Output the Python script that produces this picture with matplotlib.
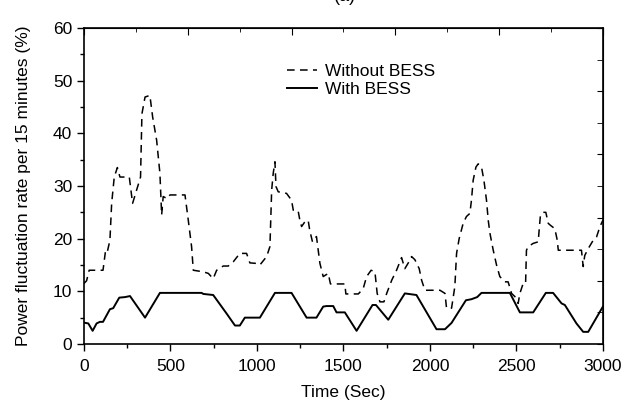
import matplotlib
matplotlib.use('Agg')
import matplotlib.pyplot as plt
from matplotlib.ticker import MultipleLocator

plt.rcParams['font.family'] = ['Liberation Sans', 'DejaVu Sans']

# without BESS (dashed)
t_without = [0, 15, 30, 110, 125, 135, 150, 160, 175, 193,
             208, 262, 281, 304, 327, 335, 353, 381, 397, 420,
             439, 449, 458, 481, 497, 536, 584, 603, 622, 632,
             690, 719, 747, 767, 805, 834, 863, 901, 940, 959,
             997, 1017, 1056, 1075, 1085, 1094, 1104, 1110, 1123, 1171,
             1200, 1210, 1238, 1248, 1258, 1277, 1296, 1305, 1321, 1344,
             1354, 1364, 1383, 1412, 1425, 1508, 1514, 1586, 1614, 1634,
             1660, 1682, 1695, 1711, 1734, 1750, 1779, 1807, 1836, 1855,
             1875, 1894, 1913, 1938, 1952, 1971, 2058, 2087, 2096, 2125,
             2144, 2154, 2169, 2192, 2211, 2231, 2240, 2250, 2266, 2279,
             2298, 2312, 2327, 2337, 2347, 2366, 2385, 2404, 2433, 2452,
             2472, 2491, 2510, 2520, 2539, 2553, 2558, 2568, 2597, 2626,
             2632, 2639, 2655, 2670, 2684, 2698, 2722, 2736, 2742, 2876,
             2886, 2895, 2915, 2944, 2963, 2983, 3000]
p_without = [11.5, 12, 14, 14, 17.8, 17.5, 19.7, 26.7, 31.7, 33.5,
             31.7, 31.7, 26.7, 29.2, 31.7, 43.7, 46.9, 47.2, 43.1, 38.7,
             32.4, 24.5, 28, 27.6, 28.3, 28.3, 28.3, 23.5, 18.5, 14,
             13.7, 13.4, 12.4, 14, 14.8, 14.8, 15.6, 17.2, 17.2, 15.4,
             15.3, 15, 16.6, 18.5, 29.2, 32.4, 34.6, 29.9, 28.9, 28.6,
             27.3, 25.4, 25.3, 23.5, 22.3, 23.2, 23.5, 21.6, 19.4, 20.4,
             17.8, 15.3, 12.8, 13.4, 11.4, 11.4, 9.5, 9.5, 10.5, 12.8,
             14, 13.7, 9.6, 8.0, 8.0, 9.6, 12.1, 14.0, 16.4, 14.3,
             15.4, 16.6, 16, 14.3, 12.1, 10.2, 10.2, 9.6, 6.8, 6.8,
             10.9, 17.2, 20, 22.9, 24.2, 24.8, 27.3, 31.1, 33.6, 34.2,
             33.6, 31.1, 27.3, 23.5, 21, 17.8, 15, 12.8, 11.8, 11.8,
             9.6, 9.0, 7.7, 9.6, 11.5, 11.5, 17.8, 18.5, 19.1, 19.4,
             21.9, 24.5, 25, 25, 22.9, 22.5, 21.9, 19.7, 17.8, 17.8,
             14.7, 16.8, 18.1, 19.7, 20.3, 22.3, 23.5]

# with BESS (solid)
t_with = [0, 25, 50, 73, 92, 110, 150, 169, 204, 237,
          266, 353, 439, 680, 690, 747, 824, 873, 901, 930,
          1017, 1104, 1200, 1287, 1344, 1383, 1402, 1441, 1460, 1508,
          1576, 1668, 1688, 1759, 1855, 1922, 2038, 2087, 2125, 2208,
          2240, 2273, 2298, 2462, 2520, 2597, 2670, 2712, 2761, 2780,
          2847, 2886, 2915, 3000]
p_with = [4.05, 3.9, 2.5, 3.9, 4.2, 4.2, 6.6, 6.8, 8.8, 8.9,
          9.1, 5.0, 9.7, 9.7, 9.5, 9.3, 5.8, 3.5, 3.5, 5.0,
          5.0, 9.7, 9.7, 5.0, 5.0, 7.1, 7.2, 7.2, 6.0, 6.0,
          2.5, 7.4, 7.4, 4.6, 9.6, 9.3, 2.8, 2.8, 4.0, 8.3,
          8.5, 8.9, 9.7, 9.7, 6.0, 6.0, 9.7, 9.7, 7.7, 7.4,
          3.9, 2.3, 2.3, 7.1]

fig = plt.figure(figsize=(6.3, 4.09), dpi=100)
ax = fig.add_axes([0.1333, 0.159, 0.8237, 0.7725])

ax.plot(t_without, p_without, color='black', lw=1.1, linestyle=(0, (5, 3.5)), label='Without BESS')
ax.plot(t_with, p_with, color='black', lw=1.4, label='With BESS')

ax.set_xlim(0, 3000)
ax.set_ylim(0, 60)
ax.xaxis.set_major_locator(MultipleLocator(500))
ax.xaxis.set_minor_locator(MultipleLocator(250))
ax.yaxis.set_major_locator(MultipleLocator(10))
ax.yaxis.set_minor_locator(MultipleLocator(5))
ax.tick_params(which='both', direction='out', labelsize=12.5, top=False, right=False)
ax.tick_params(which='major', length=5, width=1)
ax.tick_params(which='minor', length=3, width=1)
ax.tick_params(axis='x', which='major', pad=6)

# inner ticks on top and right, on their own spacing
top = ax.secondary_xaxis('top')
top.set_xticks(range(0, 3001, 600))
top.set_xticks(range(300, 3000, 600), minor=True)
top.set_xticklabels([])
top.tick_params(which='both', direction='in')
top.tick_params(which='major', length=5)
top.tick_params(which='minor', length=3)

right = ax.secondary_yaxis('right')
right.set_yticks(range(0, 61, 12))
right.set_yticks(range(6, 60, 12), minor=True)
right.set_yticklabels([])
right.tick_params(which='both', direction='in')
right.tick_params(which='major', length=4)
right.tick_params(which='minor', length=4)

for s in ax.spines.values():
    s.set_linewidth(1.2)

ax.set_xlabel('Time (Sec)', fontsize=12.5, labelpad=8)
ax.set_ylabel('Power fluctuation rate per 15 minutes (%)', fontsize=12.5, labelpad=16)

ax.legend(loc='upper left', bbox_to_anchor=(0.378, 0.908), frameon=False, fontsize=12.5,
          handlelength=1.75, handletextpad=0.45, labelspacing=0.15, borderaxespad=0)

# panel label, mostly cropped off at the top edge like the source
fig.text(345 / 630, 1.008, '(a)', ha='center', va='center', fontsize=13)

fig.savefig('out.png', dpi=100)
